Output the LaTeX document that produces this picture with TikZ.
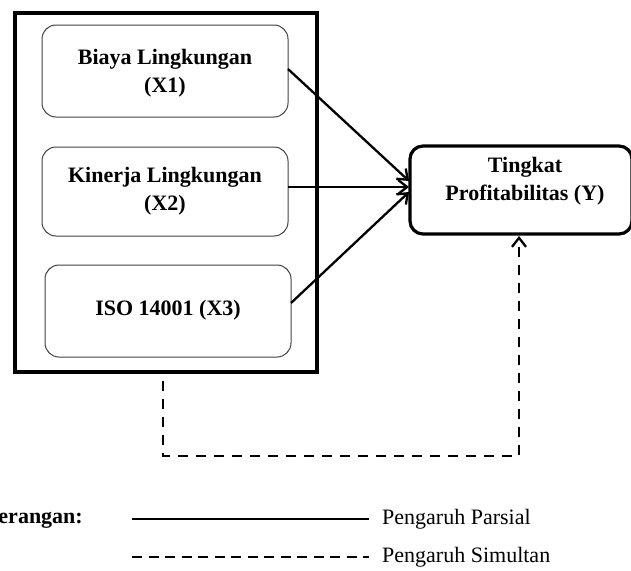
\documentclass[tikz,border=0pt]{standalone}
\usepackage{fontspec}
\setmainfont{Liberation Serif}
\usetikzlibrary{arrows.meta}
\begin{document}
\begin{tikzpicture}[x=1pt,y=-1pt,
  varbox/.style={draw=black!75,line width=1pt,rounded corners=14pt},
  ybox/.style={draw=black,line width=3.2pt,rounded corners=13pt},
  lbl/.style={font=\fontsize{22}{28}\selectfont\bfseries,align=center,inner sep=0pt},
  leg/.style={font=\fontsize{22}{28}\selectfont,anchor=west,inner sep=0pt},
  partial/.style={line width=2.3pt,-{Straight Barb[length=9pt,width=14pt,line width=2.3pt]}},
  simult/.style={line width=2.3pt,dash pattern=on 10pt off 8pt,-{Straight Barb[length=9pt,width=14pt,line width=2.3pt]}}]
\useasboundingbox (0,0) rectangle (631,570);
% outer frame
\draw[line width=3.6pt] (15,13) rectangle (317,372);
% variable boxes
\draw[varbox] (42,25) rectangle (288,117);
\draw[varbox] (42,147) rectangle (288,236);
\draw[varbox] (45,265) rectangle (291,357);
\node[lbl] (x1) at (165,73) {Biaya Lingkungan\\(X1)};
\node[lbl] (x2) at (165,191) {Kinerja Lingkungan\\(X2)};
\node[lbl] (x3) at (168,310) {ISO 14001 (X3)};
% dependent box
\draw[ybox] (410,146) rectangle (632,234);
\node[lbl] (y) at (525,181) {Tingkat\\Profitabilitas (Y)};
\coordinate (x1e) at (288,69);
\coordinate (x2e) at (288,187);
\coordinate (x3e) at (291,303);
\coordinate (yin1) at (409,181);
\coordinate (yin2) at (409,187);
\coordinate (yin3) at (409,192);
\draw[partial] (x1e) -- (yin1);
\draw[partial] (x2e) -- (yin2);
\draw[partial] (x3e) -- (yin3);
\coordinate (ds) at (163,381);
\coordinate (ybot) at (519,236);
\draw[simult] (ds) -- (163,456) -- (519,456) -- (ybot);
% legend
\node[font=\fontsize{22}{28}\selectfont\bfseries,anchor=east,inner sep=0pt] (ket) at (83,519) {Keterangan:};
\coordinate (l1a) at (132,519);
\coordinate (l1b) at (369,519);
\coordinate (l2a) at (132,557);
\coordinate (l2b) at (369,557);
\draw[line width=2.3pt] (l1a) -- (l1b);
\draw[line width=2.3pt,dash pattern=on 10pt off 6.5pt] (l2a) -- (l2b);
\node[leg] (p1) at (382,519) {Pengaruh Parsial};
\node[leg] (p2) at (382,557) {Pengaruh Simultan};
\end{tikzpicture}
\end{document}
